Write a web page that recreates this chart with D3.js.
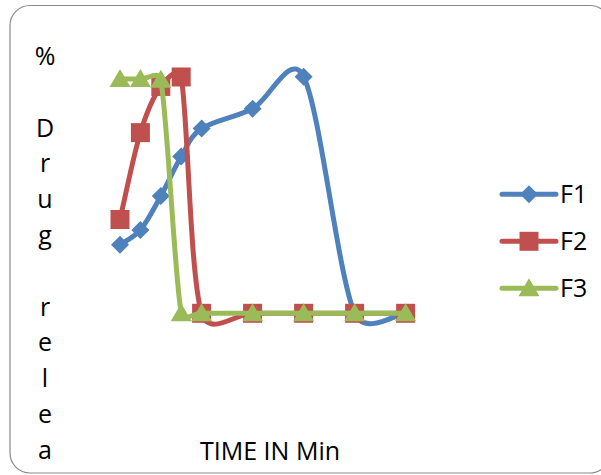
<!DOCTYPE html>
<html>
<head>
<meta charset="utf-8">
<script src="https://cdn.jsdelivr.net/npm/d3@7/dist/d3.min.js"></script>
<style>
  html, body { margin: 0; padding: 0; background: #ffffff; }
  svg { display: block; }
  text { font-family: "Open Sans", "Noto Sans", sans-serif; fill: #000; }
</style>
</head>
<body>
<svg id="chart" width="601" height="475"></svg>
<script>
// Sampling times (min) and % drug released for each formulation
const times = [2, 4, 6, 8, 10, 15, 20, 25, 30];
const seriesNames = ["F1", "F2", "F3"];
const f1 = [29.0, 35.2, 49.5, 66.2, 78.0, 86.4, 99.9, 0, 0];
const f2 = [39.6, 76.3, 95.8, 99.8, 0, 0, 0, 0, 0];
const f3 = [98.9, 98.9, 98.6, 0, 0, 0, 0, 0, 0];
const colors = ["#4F81BD", "#C0504D", "#9BBB59"];
const markers = ["diamond", "square", "triangle"];
const yTitle = "% Drug release";
const xTitle = "TIME IN Min";

const svg = d3.select("#chart");

// Chart frame with rounded corners
svg.append("rect")
  .attr("x", 10).attr("y", 5.5).attr("width", 600).attr("height", 467.5).attr("rx", 20)
  .attr("fill", "#fff").attr("stroke", "#8a8a8a").attr("stroke-width", 1.2);

const x = d3.scaleLinear().domain([0, 35]).range([99.6, 456.6]);
const y = d3.scaleLinear().domain([0, 100]).range([313.3, 76.5]);

// Smoothed line: cubic Bezier segments whose tangent handles are
// (next - prev) / 6, shortened to at most half of the segment length.
function SmoothCurve(context) { this._context = context; }
SmoothCurve.prototype = {
  areaStart() { this._line = 0; },
  areaEnd() { this._line = NaN; },
  lineStart() { this._pts = []; },
  point(px, py) { this._pts.push([+px, +py]); },
  lineEnd() {
    const p = this._pts, ctx = this._context, n = p.length;
    if (!n) return;
    ctx.moveTo(p[0][0], p[0][1]);
    const handle = (a, b, lim) => {
      let dx = (b[0] - a[0]) / 6, dy = (b[1] - a[1]) / 6;
      const len = Math.hypot(dx, dy);
      if (len > lim && len > 0) { dx *= lim / len; dy *= lim / len; }
      return [dx, dy];
    };
    for (let i = 0; i < n - 1; i++) {
      const p0 = p[Math.max(0, i - 1)], p1 = p[i], p2 = p[i + 1], p3 = p[Math.min(n - 1, i + 2)];
      const lim = Math.hypot(p2[0] - p1[0], p2[1] - p1[1]) / 2;
      const h1 = handle(p0, p2, lim), h2 = handle(p1, p3, lim);
      ctx.bezierCurveTo(p1[0] + h1[0], p1[1] + h1[1], p2[0] - h2[0], p2[1] - h2[1], p2[0], p2[1]);
    }
  }
};
const smoothCurve = ctx => new SmoothCurve(ctx);

const data = [f1, f2, f3].map((vals, i) => ({
  name: seriesNames[i], color: colors[i], marker: markers[i],
  points: vals.map((v, j) => ({ t: times[j], v }))
}));

const line = d3.line().x(d => x(d.t)).y(d => y(d.v)).curve(smoothCurve);

function markerPath(type) {
  if (type === "diamond") return "M0,-9L9,0L0,9L-9,0Z";
  if (type === "square") return "M-9.5,-9.5H9.5V9.5H-9.5Z";
  return "M0,-10L10.5,8H-10.5Z";
}

const plot = svg.append("g");
data.forEach(s => {
  const g = plot.append("g");
  g.append("path").attr("d", line(s.points))
    .attr("fill", "none").attr("stroke", s.color).attr("stroke-width", 5)
    .attr("stroke-linejoin", "round").attr("stroke-linecap", "round");
  g.selectAll("path.m").data(s.points).join("path").attr("class", "m")
    .attr("d", markerPath(s.marker))
    .attr("transform", d => `translate(${x(d.t)},${y(d.v)})`)
    .attr("fill", s.color);
});

// Legend
const legend = svg.append("g");
data.forEach((s, i) => {
  const ly = 194.3 + i * 47;
  legend.append("line").attr("x1", 502).attr("x2", 556).attr("y1", ly).attr("y2", ly)
    .attr("stroke", s.color).attr("stroke-width", 5).attr("stroke-linecap", "round");
  legend.append("path").attr("d", markerPath(s.marker))
    .attr("transform", `translate(529,${ly})`).attr("fill", s.color);
  legend.append("text").attr("x", 560).attr("y", ly + 9)
    .attr("font-size", 25).text(s.name);
});

// Vertical axis title, one character per line; the frame cuts it off at "a"
const yt = svg.append("g");
Array.from(yTitle).forEach((ch, i) => {
  const by = 65 + i * 35.8;
  if (by > 465) return;
  yt.append("text").attr("x", 45).attr("y", by)
    .attr("text-anchor", "middle").attr("font-size", 25).text(ch);
});

// Horizontal axis title
svg.append("text").attr("x", 270).attr("y", 460)
  .attr("text-anchor", "middle").attr("font-size", 25).text(xTitle);
</script>
</body>
</html>
